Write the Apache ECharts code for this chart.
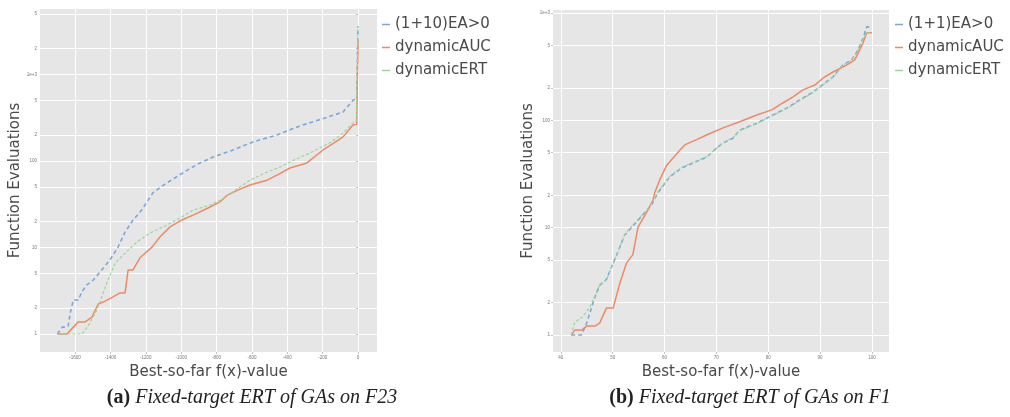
<!DOCTYPE html>
<html>
<head>
<meta charset="utf-8">
<script src="https://cdn.jsdelivr.net/npm/echarts@6/dist/echarts.min.js"></script>
<style>
  html, body { margin: 0; padding: 0; background: #ffffff; }
  #chart { width: 1010px; height: 417px; }
</style>
</head>
<body>
<div id="chart"></div>
<script>
// ---- F23 (left panel): best-so-far target vs. expected running time ----
const f23_ea_x   = [-1700, -1672, -1650, -1638, -1627, -1610, -1582, -1560, -1533, -1497, -1459, -1402, -1357, -1317, -1272, -1230, -1193, -1159, -1080, -990, -894, -820, -707, -594, -459, -329, -187, -85, -27, -8, 0];
const f23_ea_y   = [1, 1.2, 1.2, 1.25, 1.75, 2.47, 2.47, 3.1, 3.7, 4.2, 5.2, 7.2, 10.1, 15.1, 20.8, 26, 33.6, 43, 56, 73, 95, 111, 134, 166, 200, 254, 314, 368, 507, 520, 3600];
const f23_auc_x  = [-1700, -1646, -1582, -1543, -1504, -1469, -1441, -1385, -1346, -1317, -1300, -1272, -1233, -1165, -1120, -1063, -996, -933, -848, -781, -741, -680, -611, -515, -450, -385, -289, -198, -140, -85, -29, -8, 0];
const f23_auc_y  = [1, 1, 1.38, 1.38, 1.57, 2.22, 2.34, 2.68, 2.98, 2.98, 5.5, 5.5, 7.6, 10.1, 13.2, 17.3, 20.8, 23.7, 28.6, 33.6, 40, 46, 52.7, 60, 70, 83, 95, 134, 160, 190, 260, 265, 2500];
const f23_ert_x  = [-1700, -1560, -1530, -1476, -1420, -1374, -1317, -1250, -1176, -1080, -1007, -933, -837, -781, -700, -611, -530, -441, -360, -272, -159, -85, -29, -10, 0];
const f23_ert_y  = [1, 1, 1.2, 1.9, 3.9, 6.6, 8.6, 11.6, 14.7, 18.2, 21.9, 27, 31, 35, 45, 60, 72, 85, 103, 124, 162, 210, 275, 290, 3600];

// ---- F1 (right panel) ----
const f1_ea_x    = [42, 44, 45, 45.6, 46.5, 47.5, 48.8, 50.8, 52.3, 53.7, 55.8, 57.5, 58.7, 61, 63.3, 65.5, 68.2, 70, 71.3, 73.2, 74.5, 77.8, 80.9, 83.6, 86.1, 88.4, 90.4, 92.5, 94.4, 96.1, 97.3, 98.3, 99, 100];
const f1_ea_y    = [1, 1, 1.29, 1.6, 2.2, 2.9, 3.3, 5.6, 8.5, 10.1, 13.1, 16.3, 21, 29.7, 36, 40, 45.6, 55, 61.5, 68, 81, 94, 112, 130, 155, 180, 213, 254, 328, 366, 450, 584, 742, 742];
const f1_auc_x   = [42, 42.7, 44, 45, 46.6, 47.5, 48.8, 50.1, 51.4, 52.7, 53.9, 54.9, 56.6, 57.8, 58.1, 59.1, 60.4, 63, 63.9, 66.2, 68.1, 71.3, 74.5, 77.8, 80.7, 82.8, 84.8, 86.7, 89, 90.6, 92.5, 95.2, 96.7, 98.3, 99, 100];
const f1_auc_y   = [1, 1.11, 1.11, 1.21, 1.21, 1.29, 1.78, 1.78, 3.05, 4.7, 5.6, 10.1, 14, 18.1, 21, 28, 38, 53, 59, 66, 73, 85, 97, 112, 125, 145, 165, 192, 213, 248, 282, 328, 366, 527, 653, 653];
const f1_ert_x   = [42, 42.7, 44.2, 45.6, 47.5, 48.8, 50.8, 52.3, 53.7, 55.8, 57.5, 58.7, 61, 63.3, 65.5, 68.2, 71.3, 73.2, 74.5, 77.8, 80.9, 83.6, 86.1, 88.4, 90.4, 92.5, 94.4, 96.1, 97.3, 98.3, 99, 100];
const f1_ert_y   = [1, 1.32, 1.47, 1.82, 2.92, 3.25, 5.6, 8.6, 10.3, 13.3, 16.5, 21.5, 30, 36.5, 40.5, 46, 62, 69, 80, 93, 111, 129, 153, 178, 210, 250, 325, 360, 445, 570, 653, 653];

// ---- tick values ----
const f23_xticks = [-1600, -1400, -1200, -1000, -800, -600, -400, -200, 0];
const f1_xticks  = [40, 50, 60, 70, 80, 90, 100];
const f23_yticks = [1, 2, 5, 10, 20, 50, 100, 200, 500, 1000, 2000, 5000];
const f1_yticks  = [1, 2, 5, 10, 20, 50, 100, 200, 500, 1000];

const legendLeft  = ['(1+10)EA>0', 'dynamicAUC', 'dynamicERT'];
const legendRight = ['(1+1)EA>0', 'dynamicAUC', 'dynamicERT'];

const C_EA = '#7ba7d7', C_AUC = '#ee8a63', C_ERT = '#9dd49c';
const SANS = 'DejaVu Sans';
const TXT = '#4a4a4a';

function pairs(xs, ys) { return xs.map((x, i) => [x, ys[i]]); }

// 1, 10, 100 as plain numbers, 1000 and up as 1e+N, the 2/5 steps as their leading digit
function logLabel(v) {
  const e = Math.round(Math.log10(v));
  if (Math.abs(Math.pow(10, e) - v) < 1e-6 * v) {
    return e >= 3 ? '1e+' + e : String(Math.round(v));
  }
  return String(Math.round(v / Math.pow(10, Math.floor(Math.log10(v)))));
}

function xAxisCfg(idx, min, max, ticks) {
  return {
    type: 'value', gridIndex: idx, min: min, max: max,
    name: 'Best-so-far f(x)-value', nameLocation: 'middle', nameGap: 12,
    nameTextStyle: { fontFamily: SANS, fontSize: 15, color: TXT },
    axisLine: { show: false },
    axisTick: { show: true, length: 2, lineStyle: { color: '#999', width: 0.6 }, customValues: ticks },
    axisLabel: { fontSize: 4.5, color: '#777', margin: 3, customValues: ticks, formatter: v => String(v) },
    splitLine: { show: true, lineStyle: { color: '#ffffff', width: 1 } }
  };
}

function yAxisCfg(idx, min, max, ticks) {
  return {
    type: 'log', logBase: 10, gridIndex: idx, min: min, max: max,
    name: 'Function Evaluations', nameLocation: 'middle', nameGap: 14, nameRotate: 90,
    nameTextStyle: { fontFamily: SANS, fontSize: 15, color: TXT },
    axisLine: { show: false },
    axisTick: { show: true, length: 2, lineStyle: { color: '#999', width: 0.6 }, customValues: ticks },
    axisLabel: { fontSize: 4.5, color: '#777', margin: 3, customValues: ticks, formatter: logLabel },
    splitLine: { show: true, lineStyle: { color: '#ffffff', width: 1 } }
  };
}

function lineSeries(name, idx, data, color, width, dash) {
  return {
    name: name, type: 'line', xAxisIndex: idx, yAxisIndex: idx,
    data: data, showSymbol: false, symbol: 'none', animation: false,
    itemStyle: { color: color },
    lineStyle: { color: color, width: width, type: dash }
  };
}

function legendCfg(left, names) {
  return {
    orient: 'vertical', left: left, top: 17, itemGap: 8, padding: 0,
    itemWidth: 8, itemHeight: 1.5, icon: 'rect', data: names,
    textStyle: { fontFamily: SANS, fontSize: 15, color: TXT }
  };
}

function captionCfg(tag, text, centerX) {
  return {
    text: '{b|' + tag + '} {i|' + text + '}',
    left: centerX, top: 383, textAlign: 'center',
    textStyle: {
      fontWeight: 'normal',
      rich: {
        b: { fontFamily: 'Liberation Serif', fontWeight: 'bold', fontStyle: 'normal', fontSize: 20, color: '#222' },
        i: { fontFamily: 'Liberation Serif', fontWeight: 'normal', fontStyle: 'italic', fontSize: 20, color: '#222' }
      }
    }
  };
}

const chart = echarts.init(document.getElementById('chart'), null, { renderer: 'canvas' });

chart.setOption({
  backgroundColor: '#ffffff',
  animation: false,
  grid: [
    { left: 40, top: 9, width: 337, height: 343, show: true, backgroundColor: '#e6e6e6', borderWidth: 0 },
    { left: 553, top: 10, width: 336, height: 342, show: true, backgroundColor: '#e6e6e6', borderWidth: 0 }
  ],
  xAxis: [
    xAxisCfg(0, -1798, 107, f23_xticks),
    xAxisCfg(1, 38.5, 103.3, f1_xticks)
  ],
  yAxis: [
    yAxisCfg(0, 0.619, 5715, f23_yticks),
    yAxisCfg(1, 0.694, 1066, f1_yticks)
  ],
  legend: [legendCfg(382, legendLeft), legendCfg(895, legendRight)],
  title: [
    captionCfg('(a)', 'Fixed-target ERT of GAs on F23', 247),
    captionCfg('(b)', 'Fixed-target ERT of GAs on F1', 745)
  ],
  series: [
    lineSeries('(1+10)EA>0', 0, pairs(f23_ea_x, f23_ea_y), C_EA, 1.6, [4, 3]),
    lineSeries('dynamicAUC', 0, pairs(f23_auc_x, f23_auc_y), C_AUC, 1.5, 'solid'),
    lineSeries('dynamicERT', 0, pairs(f23_ert_x, f23_ert_y), C_ERT, 1.2, [3, 2]),
    lineSeries('(1+1)EA>0', 1, pairs(f1_ea_x, f1_ea_y), C_EA, 1.6, [4, 3]),
    lineSeries('dynamicAUC', 1, pairs(f1_auc_x, f1_auc_y), C_AUC, 1.5, 'solid'),
    lineSeries('dynamicERT', 1, pairs(f1_ert_x, f1_ert_y), C_ERT, 1.2, [3, 2])
  ]
});
</script>
</body>
</html>
